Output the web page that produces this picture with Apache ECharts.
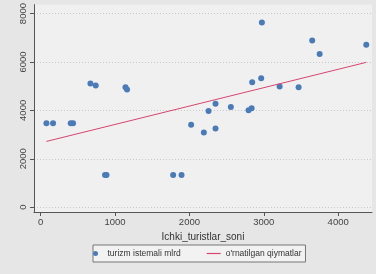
<!DOCTYPE html>
<html>
<head>
<meta charset="utf-8">
<script src="https://cdn.jsdelivr.net/npm/echarts@6/dist/echarts.min.js"></script>
<style>
  html, body { margin: 0; padding: 0; background: #e6e6e6; }
  #chart { width: 376px; height: 274px; }
</style>
</head>
<body>
<div id="chart"></div>
<script>
// scatter: ichki turistlar soni vs turizm istemali
var turistlar = [77, 166, 404, 435, 669, 740, 865, 885, 1140, 1161, 1781, 1894, 2023, 2194,
                 2257, 2351, 2351, 2557, 2795, 2836, 2844, 2965, 2974, 3213, 3468, 3651, 3751, 4378];
var istemol   = [3471, 3471, 3471, 3471, 5111, 5029, 1324, 1324, 4959, 4865, 1324, 1324, 3402, 3086,
                 3975, 4275, 3250, 4139, 4004, 4086, 5164, 5328, 7635, 4988, 4959, 6885, 6324, 6709];

// fitted line end points
var fitX = [77, 4378];
var fitY = [2717, 5984];

var xTicks = [0, 1000, 2000, 3000, 4000];
var yTicks = [0, 2000, 4000, 6000, 8000];

var scatterData = turistlar.map(function (x, i) { return [x, istemol[i]]; });
var fitData = fitX.map(function (x, i) { return [x, fitY[i]]; });

var plain = function (v) { return String(v); };

var chart = echarts.init(document.getElementById('chart'));

var option = {
    backgroundColor: '#e6e6e6',
    animation: false,
    grid: {
        left: 34, right: 4, top: 3, bottom: 62,
        show: true,
        backgroundColor: '#f0f0f0',
        borderWidth: 0
    },
    xAxis: {
        type: 'value',
        min: -90, max: 4455,
        name: 'Ichki_turistlar_soni',
        nameLocation: 'middle',
        nameGap: 19,
        nameTextStyle: { fontFamily: 'Liberation Sans', fontSize: 10, color: '#333' },
        axisLine: { onZero: false, lineStyle: { color: '#555', width: 1 } },
        axisTick: { show: true, length: 4, customValues: xTicks, lineStyle: { color: '#555' } },
        axisLabel: { customValues: xTicks, formatter: plain, fontFamily: 'Liberation Sans', fontSize: 9.5, color: '#444', margin: 5 },
        splitLine: { show: false }
    },
    yAxis: {
        type: 'value',
        min: -200, max: 8370,
        axisLine: { show: true, onZero: false, lineStyle: { color: '#555', width: 1 } },
        axisTick: { show: true, length: 4, customValues: yTicks, lineStyle: { color: '#555' } },
        axisLabel: { customValues: yTicks, formatter: plain, rotate: 90, fontFamily: 'Liberation Sans', fontSize: 9.5, color: '#444', margin: 6 },
        splitLine: { show: true, lineStyle: { color: '#c8c8c8', type: [1, 2], width: 1 } }
    },
    legend: {
        orient: 'horizontal',
        left: 93, top: 245,
        padding: [4, 4, 4, 0],
        itemGap: 26,
        itemWidth: 14, itemHeight: 5,
        borderColor: '#777', borderWidth: 1,
        backgroundColor: '#f2f2f2',
        textStyle: { fontFamily: 'Liberation Sans', fontSize: 8.5, color: '#333' },
        data: [
            { name: 'turizm istemali mlrd', icon: 'circle' },
            { name: "o'rnatilgan qiymatlar", icon: 'path://M0,0 L14,0 L14,1.2 L0,1.2 Z' }
        ]
    },
    series: [
        {
            name: 'turizm istemali mlrd',
            type: 'scatter',
            symbolSize: 6,
            itemStyle: { color: '#4a7bb7', opacity: 1 },
            data: scatterData
        },
        {
            name: "o'rnatilgan qiymatlar",
            type: 'line',
            symbol: 'none',
            lineStyle: { color: '#d8456f', width: 1 },
            itemStyle: { color: '#d8456f' },
            data: fitData
        }
    ]
};

chart.setOption(option);
</script>
</body>
</html>
